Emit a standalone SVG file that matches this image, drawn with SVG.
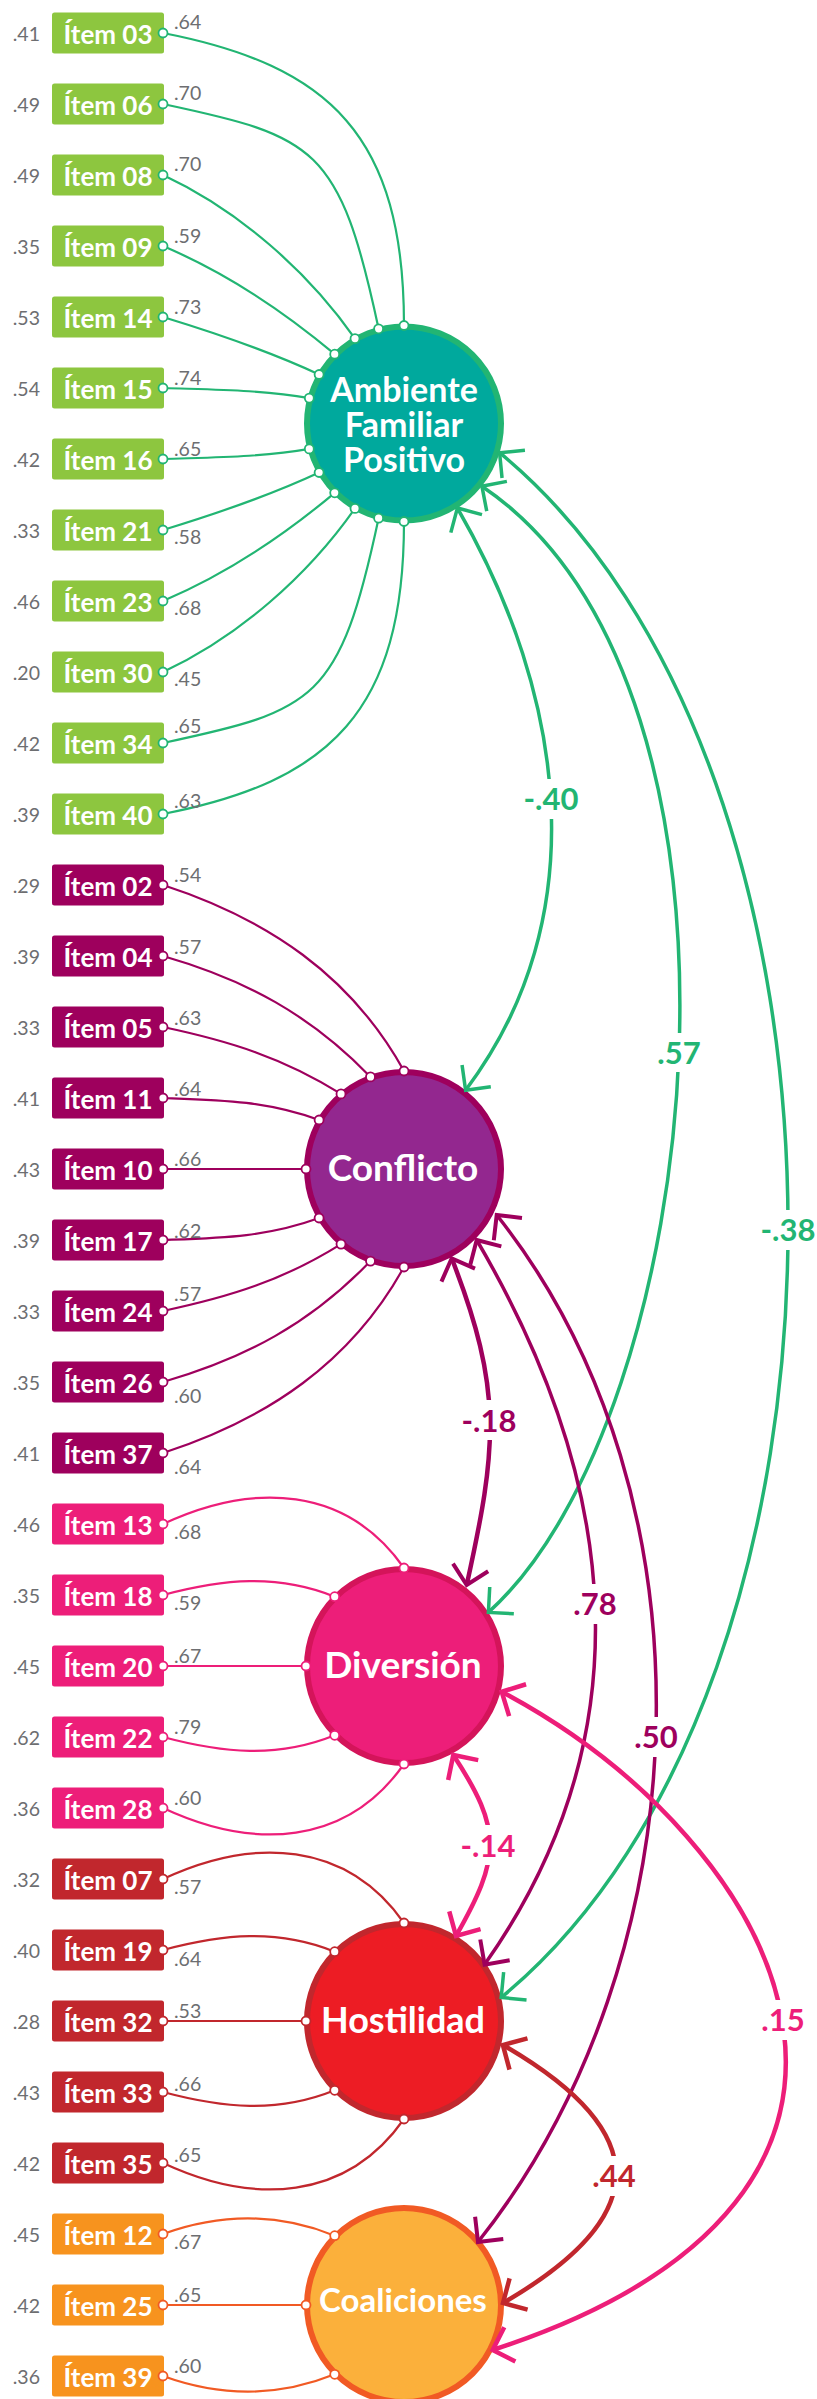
<svg xmlns="http://www.w3.org/2000/svg" width="817" height="2399" viewBox="0 0 817 2399">
<defs>
<style>
.bA{fill:#8DC63F}.bC{fill:#9E005D}.bD{fill:#ED1E79}.bH{fill:#C1272D}.bK{fill:#F7931E}
.it{font-family:Lato,"Open Sans","Liberation Sans",sans-serif;font-weight:700;font-size:26px;fill:#fff;text-anchor:middle}
.n{font-family:Lato,Roboto,"Liberation Sans",sans-serif;font-weight:400;font-size:19.5px;fill:#6D6E71}
.ev{text-anchor:end}
.l{fill:none;stroke-width:2.2}
.lA{stroke:#22B573}.lC{stroke:#9E005D}.lD{stroke:#ED1E79}.lH{stroke:#C1272D}.lK{stroke:#F15A24}
.d{fill:#fff;stroke-width:1.8}
.ring{stroke-width:6}
.lt{font-family:Lato,"Open Sans","Liberation Sans",sans-serif;font-weight:700;fill:#fff;text-anchor:middle}
.cv{fill:none}
.cG{stroke:#22B573;stroke-width:3.5;marker-start:url(#mG);marker-end:url(#mG)}
.cP{stroke:#9E005D;stroke-width:3.5;marker-start:url(#mP);marker-end:url(#mP)}
.cP2{stroke:#9E005D;stroke-width:4.5;marker-start:url(#mP);marker-end:url(#mP)}
.cK{stroke:#ED1E79;stroke-width:4.5;marker-start:url(#mK);marker-end:url(#mK)}
.cR{stroke:#C1272D;stroke-width:4.5;marker-start:url(#mR);marker-end:url(#mR)}
.cl{font-family:Lato,"Open Sans","Liberation Sans",sans-serif;font-weight:700;font-size:31px;text-anchor:middle}
.bg{fill:#fff}
</style>
<marker id="mG" markerUnits="userSpaceOnUse" orient="auto-start-reverse" refX="0" refY="0" markerWidth="40" markerHeight="40" overflow="visible"><path d="M-18,-18L0,0L-18,18" fill="none" stroke="#22B573" stroke-width="3.5"/></marker>
<marker id="mP" markerUnits="userSpaceOnUse" orient="auto-start-reverse" refX="0" refY="0" markerWidth="40" markerHeight="40" overflow="visible"><path d="M-18,-18L0,0L-18,18" fill="none" stroke="#9E005D" stroke-width="4"/></marker>
<marker id="mK" markerUnits="userSpaceOnUse" orient="auto-start-reverse" refX="0" refY="0" markerWidth="40" markerHeight="40" overflow="visible"><path d="M-18,-18L0,0L-18,18" fill="none" stroke="#ED1E79" stroke-width="4.5"/></marker>
<marker id="mR" markerUnits="userSpaceOnUse" orient="auto-start-reverse" refX="0" refY="0" markerWidth="40" markerHeight="40" overflow="visible"><path d="M-18,-18L0,0L-18,18" fill="none" stroke="#C1272D" stroke-width="4.5"/></marker>
</defs>
<rect width="817" height="2399" fill="#fff"/>

<!-- latent nodes -->
<g id="afp"><circle class="ring" cx="404" cy="423.5" r="97" fill="#00A99D" stroke="#22B573"/><text class="lt" font-size="34" x="404" y="402">Ambiente</text><text class="lt" font-size="34" x="404" y="437">Familiar</text><text class="lt" font-size="34" x="404" y="472">Positivo</text></g>
<g id="conflicto"><circle class="ring" cx="404" cy="1169" r="97" fill="#93278F" stroke="#9E005D"/><text class="lt" font-size="37" x="403" y="1181">Conflicto</text></g>
<g id="diversion"><circle class="ring" cx="404" cy="1666" r="97" fill="#ED1E79" stroke="#D4145A"/><text class="lt" font-size="37" x="403" y="1678">Diversión</text></g>
<g id="hostilidad"><circle class="ring" cx="404" cy="2021" r="97" fill="#ED1C24" stroke="#C1272D"/><text class="lt" font-size="36" x="403" y="2033">Hostilidad</text></g>
<g id="coaliciones"><circle class="ring" cx="404" cy="2305" r="97" fill="#FBB03B" stroke="#F15A24"/><text class="lt" font-size="33" x="403" y="2311.5">Coaliciones</text></g>

<!-- item nodes -->
<g id="item03"><rect class="bA" x="52" y="12.5" width="112" height="41" rx="2.5"/><text class="it" x="108" y="43.5">Ítem 03</text><text class="n ev" x="40" y="40.5">.41</text></g>
<g id="item06"><rect class="bA" x="52" y="83.5" width="112" height="41" rx="2.5"/><text class="it" x="108" y="114.5">Ítem 06</text><text class="n ev" x="40" y="111.5">.49</text></g>
<g id="item08"><rect class="bA" x="52" y="154.5" width="112" height="41" rx="2.5"/><text class="it" x="108" y="185.5">Ítem 08</text><text class="n ev" x="40" y="182.5">.49</text></g>
<g id="item09"><rect class="bA" x="52" y="225.5" width="112" height="41" rx="2.5"/><text class="it" x="108" y="256.5">Ítem 09</text><text class="n ev" x="40" y="253.5">.35</text></g>
<g id="item14"><rect class="bA" x="52" y="296.5" width="112" height="41" rx="2.5"/><text class="it" x="108" y="327.5">Ítem 14</text><text class="n ev" x="40" y="324.5">.53</text></g>
<g id="item15"><rect class="bA" x="52" y="367.5" width="112" height="41" rx="2.5"/><text class="it" x="108" y="398.5">Ítem 15</text><text class="n ev" x="40" y="395.5">.54</text></g>
<g id="item16"><rect class="bA" x="52" y="438.5" width="112" height="41" rx="2.5"/><text class="it" x="108" y="469.5">Ítem 16</text><text class="n ev" x="40" y="466.5">.42</text></g>
<g id="item21"><rect class="bA" x="52" y="509.5" width="112" height="41" rx="2.5"/><text class="it" x="108" y="540.5">Ítem 21</text><text class="n ev" x="40" y="537.5">.33</text></g>
<g id="item23"><rect class="bA" x="52" y="580.5" width="112" height="41" rx="2.5"/><text class="it" x="108" y="611.5">Ítem 23</text><text class="n ev" x="40" y="608.5">.46</text></g>
<g id="item30"><rect class="bA" x="52" y="651.5" width="112" height="41" rx="2.5"/><text class="it" x="108" y="682.5">Ítem 30</text><text class="n ev" x="40" y="679.5">.20</text></g>
<g id="item34"><rect class="bA" x="52" y="722.5" width="112" height="41" rx="2.5"/><text class="it" x="108" y="753.5">Ítem 34</text><text class="n ev" x="40" y="750.5">.42</text></g>
<g id="item40"><rect class="bA" x="52" y="793.5" width="112" height="41" rx="2.5"/><text class="it" x="108" y="824.5">Ítem 40</text><text class="n ev" x="40" y="821.5">.39</text></g>

<g id="item02"><rect class="bC" x="52" y="864.5" width="112" height="41" rx="2.5"/><text class="it" x="108" y="895.5">Ítem 02</text><text class="n ev" x="40" y="892.5">.29</text></g>
<g id="item04"><rect class="bC" x="52" y="935.5" width="112" height="41" rx="2.5"/><text class="it" x="108" y="966.5">Ítem 04</text><text class="n ev" x="40" y="963.5">.39</text></g>
<g id="item05"><rect class="bC" x="52" y="1006.5" width="112" height="41" rx="2.5"/><text class="it" x="108" y="1037.5">Ítem 05</text><text class="n ev" x="40" y="1034.5">.33</text></g>
<g id="item11"><rect class="bC" x="52" y="1077.5" width="112" height="41" rx="2.5"/><text class="it" x="108" y="1108.5">Ítem 11</text><text class="n ev" x="40" y="1105.5">.41</text></g>
<g id="item10"><rect class="bC" x="52" y="1148.5" width="112" height="41" rx="2.5"/><text class="it" x="108" y="1179.5">Ítem 10</text><text class="n ev" x="40" y="1176.5">.43</text></g>
<g id="item17"><rect class="bC" x="52" y="1219.5" width="112" height="41" rx="2.5"/><text class="it" x="108" y="1250.5">Ítem 17</text><text class="n ev" x="40" y="1247.5">.39</text></g>
<g id="item24"><rect class="bC" x="52" y="1290.5" width="112" height="41" rx="2.5"/><text class="it" x="108" y="1321.5">Ítem 24</text><text class="n ev" x="40" y="1318.5">.33</text></g>
<g id="item26"><rect class="bC" x="52" y="1361.5" width="112" height="41" rx="2.5"/><text class="it" x="108" y="1392.5">Ítem 26</text><text class="n ev" x="40" y="1389.5">.35</text></g>
<g id="item37"><rect class="bC" x="52" y="1432.5" width="112" height="41" rx="2.5"/><text class="it" x="108" y="1463.5">Ítem 37</text><text class="n ev" x="40" y="1460.5">.41</text></g>

<g id="item13"><rect class="bD" x="52" y="1503.5" width="112" height="41" rx="2.5"/><text class="it" x="108" y="1534.5">Ítem 13</text><text class="n ev" x="40" y="1531.5">.46</text></g>
<g id="item18"><rect class="bD" x="52" y="1574.5" width="112" height="41" rx="2.5"/><text class="it" x="108" y="1605.5">Ítem 18</text><text class="n ev" x="40" y="1602.5">.35</text></g>
<g id="item20"><rect class="bD" x="52" y="1645.5" width="112" height="41" rx="2.5"/><text class="it" x="108" y="1676.5">Ítem 20</text><text class="n ev" x="40" y="1673.5">.45</text></g>
<g id="item22"><rect class="bD" x="52" y="1716.5" width="112" height="41" rx="2.5"/><text class="it" x="108" y="1747.5">Ítem 22</text><text class="n ev" x="40" y="1744.5">.62</text></g>
<g id="item28"><rect class="bD" x="52" y="1787.5" width="112" height="41" rx="2.5"/><text class="it" x="108" y="1818.5">Ítem 28</text><text class="n ev" x="40" y="1815.5">.36</text></g>

<g id="item07"><rect class="bH" x="52" y="1858.5" width="112" height="41" rx="2.5"/><text class="it" x="108" y="1889.5">Ítem 07</text><text class="n ev" x="40" y="1886.5">.32</text></g>
<g id="item19"><rect class="bH" x="52" y="1929.5" width="112" height="41" rx="2.5"/><text class="it" x="108" y="1960.5">Ítem 19</text><text class="n ev" x="40" y="1957.5">.40</text></g>
<g id="item32"><rect class="bH" x="52" y="2000.5" width="112" height="41" rx="2.5"/><text class="it" x="108" y="2031.5">Ítem 32</text><text class="n ev" x="40" y="2028.5">.28</text></g>
<g id="item33"><rect class="bH" x="52" y="2071.5" width="112" height="41" rx="2.5"/><text class="it" x="108" y="2102.5">Ítem 33</text><text class="n ev" x="40" y="2099.5">.43</text></g>
<g id="item35"><rect class="bH" x="52" y="2142.5" width="112" height="41" rx="2.5"/><text class="it" x="108" y="2173.5">Ítem 35</text><text class="n ev" x="40" y="2170.5">.42</text></g>

<g id="item12"><rect class="bK" x="52" y="2213.5" width="112" height="41" rx="2.5"/><text class="it" x="108" y="2244.5">Ítem 12</text><text class="n ev" x="40" y="2241.5">.45</text></g>
<g id="item25"><rect class="bK" x="52" y="2284.5" width="112" height="41" rx="2.5"/><text class="it" x="108" y="2315.5">Ítem 25</text><text class="n ev" x="40" y="2312.5">.42</text></g>
<g id="item39"><rect class="bK" x="52" y="2355.5" width="112" height="41" rx="2.5"/><text class="it" x="108" y="2386.5">Ítem 39</text><text class="n ev" x="40" y="2383.5">.36</text></g>

<!-- connectors -->
<g id="connectors">
<g id="loadings">
<path class="l lA" d="M163,33C330.4,65.6 404,136 404,325.5"/>
<path class="l lA" d="M163,104C315.4,136.4 339.7,146 378.6,328.8"/>
<path class="l lA" d="M163,175C238.4,210.2 307.2,270.5 355,338.6"/>
<path class="l lA" d="M163,246C224.7,272.2 283.4,311.1 334.7,354.2"/>
<path class="l lA" d="M163,317C215.5,333 269.4,351.3 319.1,374.5"/>
<path class="l lA" d="M163,388C211.4,389.7 261.6,389.7 309.3,398.1"/>
<path class="l lA" d="M163,459C211.4,457.3 261.6,457.3 309.3,448.9"/>
<path class="l lA" d="M163,530C215.5,514 269.4,495.7 319.1,472.5"/>
<path class="l lA" d="M163,601C224.7,574.8 283.4,535.9 334.7,492.8"/>
<path class="l lA" d="M163,672C238.4,636.8 307.2,576.5 355,508.4"/>
<path class="l lA" d="M163,743C315.4,710.6 339.7,701 378.6,518.2"/>
<path class="l lA" d="M163,814C330.4,781.4 404,711 404,521.5"/>

<path class="l lC" d="M163,885C267.2,918.9 350.9,975.1 404,1071"/>
<path class="l lC" d="M163,956C246.1,979.9 310.4,1014.7 370.5,1076.9"/>
<path class="l lC" d="M163,1027C230,1041.2 282.9,1057.6 341,1093.9"/>
<path class="l lC" d="M163,1098C219.7,1100 265.8,1100.6 319.1,1120"/>
<path class="l lC" d="M163,1169L306,1169"/>
<path class="l lC" d="M163,1240C219.7,1238 265.8,1237.4 319.1,1218"/>
<path class="l lC" d="M163,1311C230,1296.8 282.9,1280.4 341,1244.1"/>
<path class="l lC" d="M163,1382C246.1,1358.1 310.4,1323.3 370.5,1261.1"/>
<path class="l lC" d="M163,1453C267.2,1419.1 350.9,1362.9 404,1267"/>

<path class="l lD" d="M163,1524C253.6,1481.7 346.6,1486.1 404,1568"/>
<path class="l lD" d="M163,1595C222.7,1579 277.4,1573.5 334.7,1596.7"/>
<path class="l lD" d="M163,1666L306,1666"/>
<path class="l lD" d="M163,1737C222.7,1753 277.4,1758.5 334.7,1735.3"/>
<path class="l lD" d="M163,1808C253.6,1850.3 346.6,1845.9 404,1764"/>

<path class="l lH" d="M163,1879C253.6,1836.7 346.6,1841.1 404,1923"/>
<path class="l lH" d="M163,1950C222.7,1934 277.4,1928.5 334.7,1951.7"/>
<path class="l lH" d="M163,2021L306,2021"/>
<path class="l lH" d="M163,2092C222.7,2108 277.4,2113.5 334.7,2090.3"/>
<path class="l lH" d="M163,2163C253.6,2205.3 346.6,2200.9 404,2119"/>

<path class="l lK" d="M163,2234C221.1,2212.9 277.4,2212.5 334.7,2235.7"/>
<path class="l lK" d="M163,2305L306,2305"/>
<path class="l lK" d="M163,2376C221.1,2397.1 277.4,2397.5 334.7,2374.3"/>
</g>

<g id="loading-labels" class="n">
<text x="174" y="28.5">.64</text><text x="174" y="100">.70</text><text x="174" y="171">.70</text><text x="174" y="242.5">.59</text>
<text x="174" y="313.5">.73</text><text x="174" y="384.5">.74</text><text x="174" y="456">.65</text><text x="174" y="543.5">.58</text>
<text x="174" y="615">.68</text><text x="174" y="686">.45</text><text x="174" y="733">.65</text><text x="174" y="807.5">.63</text>
<text x="174" y="882.4">.54</text><text x="174" y="954">.57</text><text x="174" y="1024.8">.63</text><text x="174" y="1095.6">.64</text>
<text x="174" y="1166.4">.66</text><text x="174" y="1238">.62</text><text x="174" y="1301.4">.57</text><text x="174" y="1403">.60</text>
<text x="174" y="1473.6">.64</text>
<text x="174" y="1538.7">.68</text><text x="174" y="1609.5">.59</text><text x="174" y="1663">.67</text><text x="174" y="1734">.79</text>
<text x="174" y="1805">.60</text>
<text x="174" y="1893.8">.57</text><text x="174" y="1966">.64</text><text x="174" y="2018">.53</text><text x="174" y="2090.5">.66</text>
<text x="174" y="2161.5">.65</text>
<text x="174" y="2249.3">.67</text><text x="174" y="2301.7">.65</text><text x="174" y="2373.3">.60</text>
</g>

<g id="covariances">
<path class="cv cG" d="M457.4,508C565.7,695.5 596,917.2 465.6,1090.2"/>
<path class="cv cG" d="M481.9,486.2C781.9,688.7 705.3,1417.1 488.4,1612.4"/>
<path class="cv cG" d="M499.6,452.7C883.1,768.7 884.7,1681.5 501.2,1997.5"/>
<path class="cv cP2" d="M451.7,1258.3C503.2,1390.6 497.2,1446.3 466.7,1585"/>
<path class="cv cP" d="M476.7,1240C619.4,1483.3 647.1,1734.2 484.6,1964.6"/>
<path class="cv cP" d="M496.7,1215C721.6,1498 702.9,1959 478,2242"/>
<path class="cv cK" d="M453.3,1755C502.8,1830.2 500.6,1857.7 456,1935.9"/>
<path class="cv cK" d="M501.7,1691.7C784.4,1842 969.5,2195.1 492.7,2350"/>
<path class="cv cR" d="M502.9,2045C653.6,2132 653.7,2216 503,2303"/>
</g>

<g id="covariance-labels">
<rect class="bg" x="524" y="779" width="54" height="40"/><text class="cl" x="551" y="810" fill="#22B573">-.40</text>
<rect class="bg" x="657" y="1033" width="44" height="39"/><text class="cl" x="679" y="1064" fill="#22B573">.57</text>
<rect class="bg" x="761" y="1210" width="54" height="40"/><text class="cl" x="788" y="1240.5" fill="#22B573">-.38</text>
<rect class="bg" x="462" y="1400" width="54" height="40"/><text class="cl" x="489" y="1431.5" fill="#9E005D">-.18</text>
<rect class="bg" x="573" y="1584" width="44" height="40"/><text class="cl" x="595" y="1615" fill="#9E005D">.78</text>
<rect class="bg" x="634" y="1717" width="44" height="40"/><text class="cl" x="656" y="1748" fill="#9E005D">.50</text>
<rect class="bg" x="461" y="1825" width="54" height="40"/><text class="cl" x="488" y="1856.5" fill="#ED1E79">-.14</text>
<rect class="bg" x="761" y="2000" width="44" height="40"/><text class="cl" x="783" y="2030.5" fill="#ED1E79">.15</text>
<rect class="bg" x="592" y="2156" width="44" height="40"/><text class="cl" x="614" y="2187" fill="#C1272D">.44</text>
</g>

<g id="dots" class="d">
<g stroke="#22B573">
<circle cx="163" cy="33" r="4.5"/><circle cx="163" cy="104" r="4.5"/><circle cx="163" cy="175" r="4.5"/><circle cx="163" cy="246" r="4.5"/>
<circle cx="163" cy="317" r="4.5"/><circle cx="163" cy="388" r="4.5"/><circle cx="163" cy="459" r="4.5"/><circle cx="163" cy="530" r="4.5"/>
<circle cx="163" cy="601" r="4.5"/><circle cx="163" cy="672" r="4.5"/><circle cx="163" cy="743" r="4.5"/><circle cx="163" cy="814" r="4.5"/>
<circle cx="404" cy="325.5" r="4.5"/><circle cx="378.6" cy="328.8" r="4.5"/><circle cx="355" cy="338.6" r="4.5"/><circle cx="334.7" cy="354.2" r="4.5"/>
<circle cx="319.1" cy="374.5" r="4.5"/><circle cx="309.3" cy="398.1" r="4.5"/><circle cx="309.3" cy="448.9" r="4.5"/><circle cx="319.1" cy="472.5" r="4.5"/>
<circle cx="334.7" cy="492.8" r="4.5"/><circle cx="355" cy="508.4" r="4.5"/><circle cx="378.6" cy="518.2" r="4.5"/><circle cx="404" cy="521.5" r="4.5"/>
</g>
<g stroke="#9E005D">
<circle cx="163" cy="885" r="4.5"/><circle cx="163" cy="956" r="4.5"/><circle cx="163" cy="1027" r="4.5"/><circle cx="163" cy="1098" r="4.5"/>
<circle cx="163" cy="1169" r="4.5"/><circle cx="163" cy="1240" r="4.5"/><circle cx="163" cy="1311" r="4.5"/><circle cx="163" cy="1382" r="4.5"/>
<circle cx="163" cy="1453" r="4.5"/>
<circle cx="404" cy="1071" r="4.5"/><circle cx="370.5" cy="1076.9" r="4.5"/><circle cx="341" cy="1093.9" r="4.5"/><circle cx="319.1" cy="1120" r="4.5"/>
<circle cx="306" cy="1169" r="4.5"/><circle cx="319.1" cy="1218" r="4.5"/><circle cx="341" cy="1244.1" r="4.5"/><circle cx="370.5" cy="1261.1" r="4.5"/>
<circle cx="404" cy="1267" r="4.5"/>
</g>
<g stroke="#ED1E79">
<circle cx="163" cy="1524" r="4.5"/><circle cx="163" cy="1595" r="4.5"/><circle cx="163" cy="1666" r="4.5"/><circle cx="163" cy="1737" r="4.5"/><circle cx="163" cy="1808" r="4.5"/>
<circle cx="404" cy="1568" r="4.5"/><circle cx="334.7" cy="1596.7" r="4.5"/><circle cx="306" cy="1666" r="4.5"/><circle cx="334.7" cy="1735.3" r="4.5"/><circle cx="404" cy="1764" r="4.5"/>
</g>
<g stroke="#C1272D">
<circle cx="163" cy="1879" r="4.5"/><circle cx="163" cy="1950" r="4.5"/><circle cx="163" cy="2021" r="4.5"/><circle cx="163" cy="2092" r="4.5"/><circle cx="163" cy="2163" r="4.5"/>
<circle cx="404" cy="1923" r="4.5"/><circle cx="334.7" cy="1951.7" r="4.5"/><circle cx="306" cy="2021" r="4.5"/><circle cx="334.7" cy="2090.3" r="4.5"/><circle cx="404" cy="2119" r="4.5"/>
</g>
<g stroke="#F15A24">
<circle cx="163" cy="2234" r="4.5"/><circle cx="163" cy="2305" r="4.5"/><circle cx="163" cy="2376" r="4.5"/>
<circle cx="334.7" cy="2235.7" r="4.5"/><circle cx="306" cy="2305" r="4.5"/><circle cx="334.7" cy="2374.3" r="4.5"/>
</g>
</g>
</g>
</svg>
